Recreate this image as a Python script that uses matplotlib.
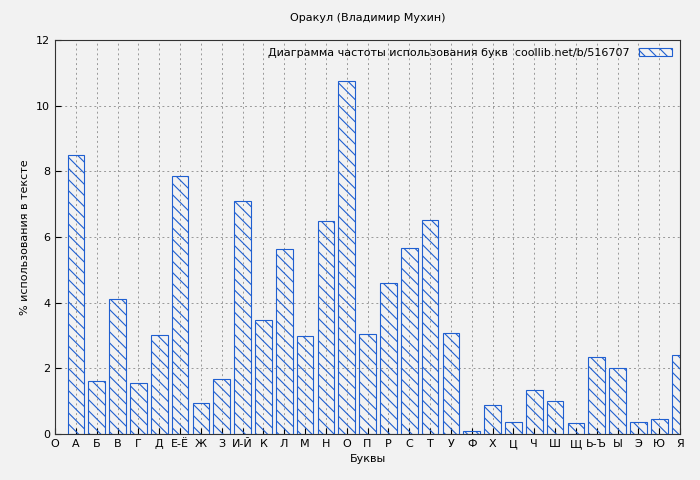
import matplotlib
matplotlib.use("Agg")
import matplotlib.pyplot as plt

letters = ["А","Б","В","Г","Д","Е-Ё","Ж","З","И-Й","К","Л","М","Н","О","П","Р","С","Т","У","Ф","Х","Ц","Ч","Ш","Щ","Ь-Ъ","Ы","Э","Ю","Я"]
values = [8.50,1.61,4.11,1.55,3.02,7.86,0.94,1.68,7.10,3.47,5.64,2.99,6.49,10.75,3.05,4.60,5.67,6.52,3.08,0.09,0.88,0.37,1.34,1.01,0.34,2.35,2.01,0.37,0.46,2.41]
tick_labels = ["О"] + letters

plt.rcParams['font.family'] = ['DejaVu Sans']
plt.rcParams['hatch.color'] = '#1f5fd0'
plt.rcParams['hatch.linewidth'] = 0.8
fig = plt.figure(figsize=(7, 4.8), dpi=100, facecolor='#f2f2f2')
ax = fig.add_axes([55/700, 1-434/480, 625/700, 394/480])
ax.set_facecolor('#f2f2f2')
x = list(range(1, len(values)+1))
ax.bar(x, values, width=0.8, facecolor='none', edgecolor='#1f5fd0', linewidth=0.8,
       hatch='\\\\\\', label='Диаграмма частоты использования букв  coollib.net/b/516707', zorder=3)
ax.set_xlim(0, 30)
ax.set_ylim(0, 12)
ax.set_xticks(range(0, 31))
ax.set_xticklabels(tick_labels, fontsize=8)
ax.set_yticks(range(0, 13, 2))
ax.tick_params(labelsize=8, direction='in', length=4)
ax.grid(True, linestyle=(0, (2, 3)), color='#999999', linewidth=0.7, zorder=0)
for s in ax.spines.values():
    s.set_color('#333333')
ax.set_xlabel('Буквы', fontsize=8)
ax.set_ylabel('% использования в тексте', fontsize=8)
ax.set_title('Оракул (Владимир Мухин)', fontsize=8, pad=14)
leg = ax.legend(loc='upper right', frameon=False, fontsize=8, markerfirst=False,
                handlelength=3, borderaxespad=0.3)
fig.savefig('out.png', dpi=100, facecolor='#f2f2f2')
